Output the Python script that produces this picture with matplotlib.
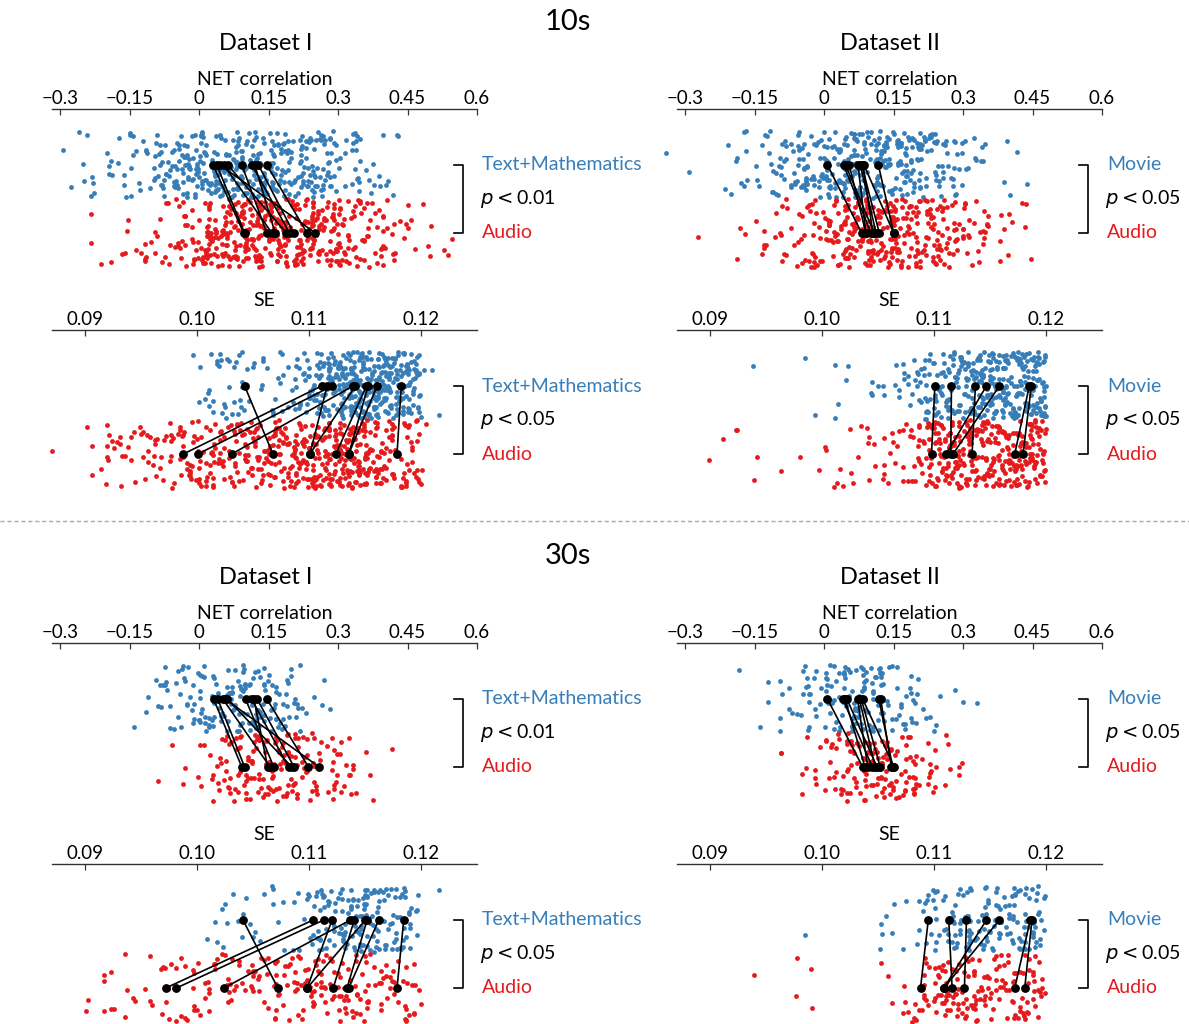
import numpy as np
import matplotlib
matplotlib.use("Agg")
import matplotlib.pyplot as plt
from matplotlib.transforms import blended_transform_factory
from matplotlib.lines import Line2D

plt.rcParams['font.family'] = ['Lato', 'DejaVu Sans']
plt.rcParams['mathtext.fontset'] = 'dejavusans'
plt.rcParams['axes.unicode_minus'] = True

BLUE = '#377eb8'
RED = '#e41a1c'

# ---------------- data ----------------
# NET correlation histograms: bins of 0.05 starting at -0.35 (19 bins)
NET_START, NET_STEP = -0.35, 0.05
# SE histograms: bins of 0.001 starting at 0.087 (35 bins)
SE_START, SE_STEP = 0.087, 0.001

# 10s, Dataset I
net10_d1_blue = [0, 4, 6, 10, 14, 30, 45, 50, 50, 50, 45, 40, 35, 20, 8, 5, 0, 0, 0]
net10_d1_red = [0, 0, 3, 5, 7, 12, 25, 45, 55, 60, 60, 55, 45, 35, 25, 12, 6, 4, 0]
se10_d1_blue = [0]*12 + [1, 4, 8, 9, 8, 7, 5, 5, 6, 9, 12, 22, 30, 34, 40, 44, 44, 42, 36, 32, 26, 2, 1]
se10_d1_red = [1, 0, 0, 3, 5, 5, 6, 6, 7, 9, 10, 12, 14, 14, 15, 15, 16, 18, 18, 20, 22, 24, 26,
               28, 30, 32, 34, 32, 26, 20, 16, 16, 14, 2, 0]
# 10s, Dataset II
net10_d2_blue = [1, 1, 3, 8, 14, 25, 35, 45, 50, 50, 45, 35, 22, 10, 2, 3, 0, 0, 0]
net10_d2_red = [0, 1, 0, 3, 8, 14, 25, 40, 50, 52, 48, 40, 30, 18, 10, 5, 0, 0, 0]
se10_d2_blue = [0, 0, 0, 0, 0, 0, 1, 0, 0, 0, 0, 1, 1, 0, 3, 2, 0, 4, 2, 4, 6, 10, 16, 20,
                22, 24, 28, 32, 34, 34, 34, 34, 36, 0, 0]
se10_d2_red = [0, 0, 1, 0, 1, 2, 1, 1, 0, 1, 0, 1, 1, 2, 4, 3, 3, 5, 5, 6, 7, 12, 20, 28,
               30, 30, 28, 26, 26, 26, 28, 28, 28, 0, 0]
# 30s, Dataset I
net30_d1_blue = [0, 0, 0, 0, 3, 12, 20, 30, 35, 32, 25, 10, 3, 0, 0, 0, 0, 0, 0]
net30_d1_red = [0, 0, 0, 0, 0, 2, 3, 12, 25, 35, 35, 30, 18, 12, 3, 1, 0, 0, 0]
se30_d1_blue = [0]*13 + [1, 2, 4, 2, 4, 4, 3, 3, 2, 6, 12, 14, 14, 18, 22, 20, 16, 14, 16, 6, 0, 1]
se30_d1_red = [0, 0, 0, 2, 3, 3, 3, 2, 3, 4, 5, 6, 6, 6, 7, 7, 7, 7, 8, 8, 9, 10, 11, 12,
               12, 12, 12, 11, 10, 9, 8, 9, 7, 0, 0]
# 30s, Dataset II
net30_d2_blue = [0, 0, 0, 1, 3, 8, 18, 30, 35, 30, 18, 8, 2, 1, 0, 0, 0, 0, 0]
net30_d2_red = [0, 0, 0, 0, 0, 2, 8, 20, 35, 38, 28, 12, 7, 0, 0, 0, 0, 0, 0]
se30_d2_blue = [0]*11 + [1, 0, 0, 0, 0, 0, 0, 4, 2, 2, 3, 8, 10, 14, 14, 16, 18, 14, 10, 14, 18, 14, 0, 0]
se30_d2_red = [0, 0, 0, 0, 0, 0, 1, 0, 0, 0, 2, 0, 2, 0, 0, 0, 0, 0, 2, 1, 4, 6, 10, 14,
               16, 16, 16, 12, 12, 10, 14, 14, 10, 0, 0]

# paired (black) points: model value in upper group -> value in Audio group
net10_d1_pair_top = [0.030, 0.038, 0.045, 0.053, 0.062, 0.092, 0.114, 0.120, 0.128, 0.146]
net10_d1_pair_bot = [0.096, 0.098, 0.251, 0.157, 0.188, 0.146, 0.195, 0.164, 0.204, 0.233]
se10_d1_pair_top = [0.10426, 0.11112, 0.11206, 0.11394, 0.11162, 0.11415, 0.11513, 0.11528, 0.11608, 0.11824]
se10_d1_pair_bot = [0.10678, 0.09879, 0.10010, 0.10310, 0.11008, 0.11008, 0.11240, 0.11355, 0.11355, 0.11786]
net10_d2_pair_top = [0.007, 0.042, 0.046, 0.054, 0.073, 0.078, 0.081, 0.086, 0.117, 0.084]
net10_d2_pair_bot = [0.081, 0.101, 0.108, 0.090, 0.090, 0.112, 0.119, 0.150, 0.150, 0.105]
se10_d2_pair_top = [0.11008, 0.11156, 0.11370, 0.11468, 0.11584, 0.11851, 0.11869]
se10_d2_pair_bot = [0.10978, 0.11150, 0.11340, 0.11110, 0.11170, 0.11721, 0.11795]
net30_d1_pair_top = [0.031, 0.040, 0.051, 0.061, 0.056, 0.100, 0.113, 0.125, 0.146, 0.118]
net30_d1_pair_bot = [0.092, 0.098, 0.153, 0.200, 0.259, 0.161, 0.193, 0.205, 0.236, 0.148]
se30_d1_pair_top = [0.10411, 0.11037, 0.11132, 0.11370, 0.11206, 0.11504, 0.11405, 0.11519, 0.11623, 0.11846]
se30_d1_pair_bot = [0.10722, 0.09722, 0.09817, 0.10241, 0.10984, 0.10984, 0.11216, 0.11340, 0.11355, 0.11786]
net30_d2_pair_top = [0.007, 0.040, 0.049, 0.072, 0.080, 0.083, 0.122, 0.045, 0.076, 0.118]
net30_d2_pair_bot = [0.083, 0.104, 0.114, 0.094, 0.121, 0.151, 0.145, 0.088, 0.110, 0.148]
se30_d2_pair_top = [0.10949, 0.11132, 0.11290, 0.11468, 0.11584, 0.11860, 0.11875]
se30_d2_pair_bot = [0.10880, 0.11162, 0.11272, 0.11088, 0.11088, 0.11721, 0.11810]

net_ticks = [-0.3, -0.15, 0, 0.15, 0.3, 0.45, 0.6]
net_ticklabels = ['\u22120.3', '\u22120.15', '0', '0.15', '0.3', '0.45', '0.6']
se_ticks = [0.09, 0.10, 0.11, 0.12]
se_ticklabels = ['0.09', '0.10', '0.11', '0.12']

block_titles = ['10s', '30s']
dataset_titles = ['Dataset I', 'Dataset II']
top_names = ['Text+Mathematics', 'Movie']
bottom_name = 'Audio'
pvals = {  # (block, dataset, metric)
    (0, 0, 'net'): '0.01', (0, 0, 'se'): '0.05', (0, 1, 'net'): '0.05', (0, 1, 'se'): '0.05',
    (1, 0, 'net'): '0.01', (1, 0, 'se'): '0.05', (1, 1, 'net'): '0.05', (1, 1, 'se'): '0.05',
}

hist = {
    (0, 0, 'net'): (net10_d1_blue, net10_d1_red, net10_d1_pair_top, net10_d1_pair_bot),
    (0, 0, 'se'): (se10_d1_blue, se10_d1_red, se10_d1_pair_top, se10_d1_pair_bot),
    (0, 1, 'net'): (net10_d2_blue, net10_d2_red, net10_d2_pair_top, net10_d2_pair_bot),
    (0, 1, 'se'): (se10_d2_blue, se10_d2_red, se10_d2_pair_top, se10_d2_pair_bot),
    (1, 0, 'net'): (net30_d1_blue, net30_d1_red, net30_d1_pair_top, net30_d1_pair_bot),
    (1, 0, 'se'): (se30_d1_blue, se30_d1_red, se30_d1_pair_top, se30_d1_pair_bot),
    (1, 1, 'net'): (net30_d2_blue, net30_d2_red, net30_d2_pair_top, net30_d2_pair_bot),
    (1, 1, 'se'): (se30_d2_blue, se30_d2_red, se30_d2_pair_top, se30_d2_pair_bot),
}

# ---------------- layout ----------------
W, H = 1189, 1024
fig = plt.figure(figsize=(W / 100, H / 100), dpi=100)


def _h(n, k):
    # deterministic hash used only for within-bin jitter of marker positions
    v = np.sin(n * 12.9898 + k * 78.233) * 43758.5453
    return v - np.floor(v)


def spread(counts, start, step, center, lo, hi, seed):
    xs, ys = [], []
    n = seed
    for i, c in enumerate(counts):
        for _ in range(c):
            n += 1
            xs.append(start + step * (i + _h(n, 1.0)))
            ys.append(center + lo + (hi - lo) * _h(n, 2.7))
    return np.array(xs), np.array(ys)


col_left = [52, 677]
col_w = 425
row_blue_px = {(0, 'net'): 165, (0, 'se'): 386, (1, 'net'): 699, (1, 'se'): 920}
PPU = 68.0
YLO, YHI = -0.56, 1.83

seed = 0
for b in range(2):
    for d in range(2):
        for m in ['net', 'se']:
            seed += 1000
            bp = row_blue_px[(b, m)]
            top_px = bp - (YHI - 1) * PPU
            h_px = (YHI - YLO) * PPU
            ax = fig.add_axes([col_left[d] / W, 1 - (top_px + h_px) / H, col_w / W, h_px / H])
            blue, red, ptop, pbot = hist[(b, d, m)]
            if m == 'net':
                start, step = NET_START, NET_STEP
                ax.set_xlim(-0.318, 0.6)
                ax.set_xticks(net_ticks)
                ax.set_xticklabels(net_ticklabels)
                xlabel = 'NET correlation'
            else:
                start, step = SE_START, SE_STEP
                ax.set_xlim(0.08706, 0.125)
                ax.set_xticks(se_ticks)
                ax.set_xticklabels(se_ticklabels)
                xlabel = 'SE'
            ax.set_ylim(YLO, YHI)
            xb, yb = spread(blue, start, step, 1.0, -0.48, 0.5, seed)
            xr, yr = spread(red, start, step, 0.0, -0.5, 0.5, seed + 500)
            ax.scatter(xb, yb, s=12, color=BLUE, linewidths=0, zorder=2, clip_on=False)
            ax.scatter(xr, yr, s=12, color=RED, linewidths=0, zorder=2, clip_on=False)
            for t, bt in zip(ptop, pbot):
                ax.plot([t, bt], [1, 0], color='black', lw=1.2, zorder=3)
            ax.scatter(ptop, [1] * len(ptop), s=40, color='black', linewidths=0, zorder=4)
            ax.scatter(pbot, [0] * len(pbot), s=40, color='black', linewidths=0, zorder=4)

            for s in ['left', 'right', 'bottom']:
                ax.spines[s].set_visible(False)
            ax.spines['top'].set_color('#333333')
            ax.spines['top'].set_linewidth(1.0)
            ax.xaxis.tick_top()
            ax.xaxis.set_label_position('top')
            ax.tick_params(axis='x', direction='in', length=4, width=0.9, color='#333333',
                           labelsize=13.5, pad=1)
            ax.set_yticks([])
            ax.set_xlabel(xlabel, fontsize=14, labelpad=4)
            ax.patch.set_alpha(0)

            tr = blended_transform_factory(ax.transAxes, ax.transData)
            ax.add_line(Line2D([0.946, 0.967, 0.967, 0.946], [1, 1, 0, 0], transform=tr,
                               color='black', lw=1.2, clip_on=False))
            ax.text(1.012, 1.0, top_names[d], transform=tr, color=BLUE, fontsize=14,
                    va='center', ha='left')
            ax.text(1.008, 0.5, r'$p<$' + pvals[(b, d, m)], transform=tr, color='black',
                    fontsize=14, va='center', ha='left')
            ax.text(1.012, 0.0, bottom_name, transform=tr, color=RED, fontsize=14,
                    va='center', ha='left')

# titles
for b, ypx in zip(range(2), [22, 556]):
    fig.text(568 / W, 1 - ypx / H, block_titles[b], fontsize=21, ha='center', va='center')
for b, ypx in zip(range(2), [44, 578]):
    for d, xpx in zip(range(2), [266, 890]):
        fig.text(xpx / W, 1 - ypx / H, dataset_titles[d], fontsize=17, ha='center', va='center')

# separator
fig.add_artist(Line2D([0, 1], [1 - 521 / H, 1 - 521 / H], transform=fig.transFigure,
                      color='#aaaaaa', lw=1.0, linestyle=(0, (3, 2))))

fig.savefig('out.png', dpi=100)
